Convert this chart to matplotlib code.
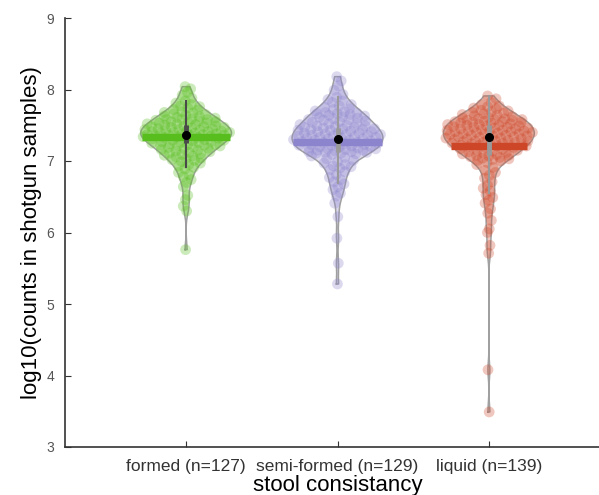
"""
Violin plot: log10 read counts in shotgun samples by stool consistency
"""

import numpy as np
import matplotlib.pyplot as plt

plt.rcParams['font.family'] = ['Liberation Sans', 'DejaVu Sans']

# ---- data ----
categories = ['formed (n=127)', 'semi-formed (n=129)', 'liquid (n=139)']
colors = ['#58be1e', '#8c84cd', '#cd4628']

formed = [
    8.04, 8.01,
    7.96, 7.92, 7.88, 7.84, 7.81,
    7.79, 7.77, 7.76, 7.74, 7.72, 7.71, 7.69, 7.68, 7.67, 7.66, 7.65, 7.64,
    7.63, 7.62, 7.61, 7.60,
    7.59, 7.58, 7.58, 7.58, 7.57, 7.56, 7.55, 7.55, 7.54, 7.53, 7.53, 7.52,
    7.52, 7.51, 7.50, 7.49, 7.49, 7.48, 7.48, 7.47, 7.47, 7.46, 7.45, 7.45,
    7.44, 7.44, 7.43, 7.43, 7.42, 7.42, 7.41, 7.41, 7.40, 7.40,
    7.39, 7.39, 7.38, 7.38, 7.37, 7.37, 7.36, 7.36, 7.36, 7.35, 7.35, 7.34,
    7.34, 7.33, 7.33, 7.32, 7.31, 7.31, 7.30, 7.29, 7.29, 7.28, 7.27, 7.27,
    7.26, 7.25, 7.25, 7.24, 7.23, 7.23, 7.22, 7.22, 7.21, 7.21, 7.20,
    7.19, 7.18, 7.17, 7.16, 7.15, 7.14, 7.13, 7.12, 7.11, 7.10, 7.09, 7.08,
    7.07, 7.06, 7.04, 7.03, 7.02, 7.01,
    6.99, 6.97, 6.95, 6.93, 6.91, 6.89, 6.84, 6.81,
    6.78, 6.74, 6.70, 6.64,
    6.52, 6.46, 6.37, 6.30, 5.76,
]

semi_formed = [
    8.18, 8.12,
    8.05, 7.99, 7.93,
    7.89, 7.86, 7.84, 7.82, 7.79, 7.77, 7.75, 7.73, 7.72, 7.70,
    7.69, 7.68, 7.67, 7.66, 7.66, 7.65, 7.64, 7.63, 7.62, 7.61, 7.60, 7.59,
    7.58, 7.58, 7.57, 7.56, 7.55, 7.54, 7.53, 7.52, 7.51, 7.50,
    7.49, 7.49, 7.48, 7.47, 7.47, 7.46, 7.45, 7.45, 7.44, 7.44, 7.43, 7.43,
    7.42, 7.41, 7.41, 7.40, 7.39, 7.39, 7.38, 7.37, 7.37, 7.36, 7.36, 7.35,
    7.35, 7.34, 7.33, 7.33, 7.32, 7.32, 7.31, 7.31, 7.30,
    7.29, 7.29, 7.28, 7.27, 7.27, 7.26, 7.26, 7.25, 7.24, 7.23, 7.23, 7.22,
    7.22, 7.21, 7.20, 7.20, 7.19, 7.18, 7.18, 7.17, 7.17, 7.16, 7.15, 7.15,
    7.14, 7.13, 7.13, 7.12, 7.12, 7.11, 7.11, 7.10,
    7.09, 7.07, 7.05, 7.03, 7.01, 6.99, 6.97, 6.95, 6.93, 6.92, 6.90,
    6.88, 6.85, 6.81, 6.77, 6.74, 6.71,
    6.68, 6.64, 6.60, 6.55, 6.51,
    6.41, 6.22, 5.92, 5.57, 5.28,
]

liquid = [
    7.91, 7.87, 7.82,
    7.79, 7.77, 7.76, 7.74, 7.73, 7.71, 7.70, 7.69, 7.68, 7.67, 7.66, 7.65,
    7.64, 7.63, 7.62, 7.61,
    7.60, 7.59, 7.59, 7.58, 7.58, 7.57, 7.57, 7.56, 7.55, 7.55, 7.54, 7.54,
    7.53, 7.53, 7.52, 7.51, 7.51, 7.50, 7.50, 7.49, 7.49, 7.48, 7.47, 7.47,
    7.46, 7.46, 7.45, 7.45, 7.44, 7.43, 7.43, 7.42, 7.42, 7.42, 7.41, 7.41,
    7.40, 7.40,
    7.39, 7.38, 7.38, 7.38, 7.37, 7.36, 7.36, 7.35, 7.35, 7.34, 7.34, 7.33,
    7.32, 7.32, 7.31, 7.31, 7.30, 7.30, 7.29, 7.28, 7.28, 7.28, 7.27, 7.26,
    7.26, 7.25, 7.25, 7.24, 7.24, 7.23, 7.22, 7.22, 7.22, 7.21, 7.21, 7.20,
    7.19, 7.18, 7.17, 7.16, 7.15, 7.15, 7.14, 7.13, 7.12, 7.11, 7.10, 7.09,
    7.08, 7.08, 7.07, 7.06, 7.05, 7.04, 7.03, 7.02, 7.01, 7.00,
    6.98, 6.95, 6.91, 6.87, 6.84, 6.80,
    6.76, 6.71, 6.66, 6.62,
    6.58, 6.53, 6.49, 6.45, 6.41,
    6.33, 6.27, 6.17, 6.05, 6.00, 5.82, 5.71, 4.08, 3.49,
]

# summary marks as drawn in the reference
medians = [7.36, 7.31, 7.34]
means = [7.34, 7.26, 7.21]
q1 = [7.25, 7.13, 7.08]
q3 = [7.50, 7.46, 7.50]
whisker_lo = [6.92, 6.69, 6.55]
whisker_hi = [7.84, 7.90, 7.91]
whisker_colors = ['#4a4a4a', '#9a9a9a', '#9a9a9a']

groups = [formed, semi_formed, liquid]


def kde(values, grid):
    """gaussian kernel density, robust-sigma bandwidth (ksdensity style)"""
    x = np.asarray(values)
    sig = np.median(np.abs(x - np.median(x))) / 0.6745
    bw = 0.85 * sig * (4.0 / (3.0 * len(x))) ** 0.2
    z = (grid[:, None] - x[None, :]) / bw
    return np.exp(-0.5 * z ** 2).sum(axis=1)


fig = plt.figure(figsize=(5.99, 4.95), dpi=100)
ax = fig.add_axes([65 / 599, 48 / 495, 545 / 599, 429 / 495])

width = 0.3
for i, vals in enumerate(groups):
    pos = i + 1
    vals = np.asarray(vals)
    grid = np.linspace(vals.min(), vals.max(), 300)
    dens = kde(vals, grid)
    dens = dens / dens.max() * width

    # violin body
    ax.fill_betweenx(grid, pos - dens, pos + dens, facecolor=colors[i],
                     alpha=0.3, edgecolor='none', zorder=1)
    ax.plot(np.r_[pos - dens, (pos + dens)[::-1], pos - dens[0]],
            np.r_[grid, grid[::-1], grid[0]],
            color='#a0a0a0', lw=1.1, zorder=2)

    # jittered points (deterministic quasi-uniform jitter)
    k = np.arange(len(vals))
    jit = 2 * ((k * 0.6180339887 + 0.37) % 1.0) - 1
    spread = np.interp(vals, grid, dens)
    ax.scatter(pos + jit * spread, vals, s=60, color=colors[i],
               alpha=0.3, edgecolors='none', zorder=3)

    # mean bar spanning the violin width
    half = np.interp(means[i], grid, dens)
    ax.plot([pos - half, pos + half], [means[i], means[i]],
            color=colors[i], lw=5.3, solid_capstyle='butt', zorder=4)

    # whiskers + box
    ax.plot([pos, pos], [whisker_lo[i], whisker_hi[i]],
            color=whisker_colors[i], lw=1.5, zorder=5)
    ax.plot([pos, pos], [q1[i], q3[i]],
            color=whisker_colors[i], lw=3.5, solid_capstyle='butt', zorder=5)

    # median dot
    ax.plot(pos, medians[i], 'o', color='black', markersize=5.5, zorder=6)

ax.set_xlim(0.2, 3.8)
ax.set_ylim(3, 9)
ax.set_yticks(np.arange(3, 10))
ax.set_xticks([1, 2, 3])
ax.set_xticklabels(categories, fontsize=12.5, color='#333333')
ax.tick_params(axis='y', direction='in', length=4, labelsize=10,
               labelcolor='#555555', color='#333333', pad=8)
ax.tick_params(axis='x', direction='in', length=4, color='#333333', pad=9)

for side in ['top', 'right']:
    ax.spines[side].set_visible(False)
for side in ['left', 'bottom']:
    ax.spines[side].set_color('#333333')
    ax.spines[side].set_linewidth(1.2)

ax.set_ylabel('log10(counts in shotgun samples)', fontsize=16, labelpad=3)
ax.set_xlabel('stool consistancy', fontsize=16, labelpad=0.5)

plt.savefig('out.png', dpi=100)
plt.close()
